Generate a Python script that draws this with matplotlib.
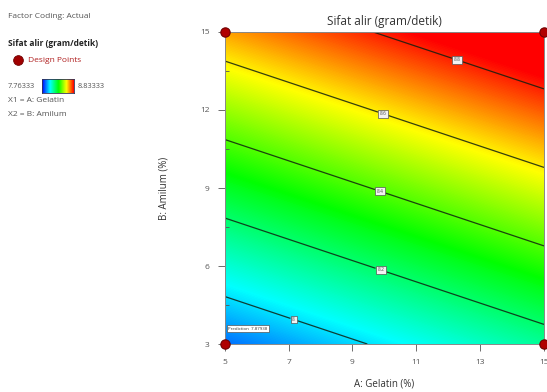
import numpy as np
import matplotlib.pyplot as plt
from matplotlib.colors import LinearSegmentedColormap
from matplotlib.lines import Line2D

plt.rcParams["font.family"] = ["Open Sans", "DejaVu Sans"]

# --------------------------------------------------------------
# datos: niveles de los factores y respuesta predicha (modelo lineal)
# --------------------------------------------------------------
gelatin = [5, 15]            # A: Gelatin (%)
amilum = [3, 15]             # B: Amilum (%)
pred = [[7.879, 8.150],      # amilum = 3
        [8.674, 8.945]]      # amilum = 15
contour_levels = [8.0, 8.2, 8.4, 8.6, 8.8]
contour_labels = ["8", "8.2", "8.4", "8.6", "8.8"]
label_pos = [(7.2, 4.1), (9.9, 5.9), (9.9, 9.0), (10.0, 12.0), (12.3, 14.0)]
z_min, z_max = 7.76333, 8.83333
x_ticks = [5, 7, 9, 11, 13, 15]
y_ticks = [3, 6, 9, 12, 15]
design_a = [5, 15, 5, 15]
design_b = [3, 3, 15, 15]

gray = "#555555"
cmap = LinearSegmentedColormap.from_list(
    "de", [(0.0, "#0000ff"), (0.25, "#00ffff"), (0.52, "#00ff00"),
           (0.77, "#ffff00"), (1.0, "#ff0000")])

fig = plt.figure(figsize=(5.47, 3.92), dpi=100)
ax = fig.add_axes([0.411, 0.1224, 0.5835, 0.796])

A, B = np.meshgrid(gelatin, amilum)
Z = np.array(pred)

fill_levels = np.linspace(z_min, z_max, 256)
cf = ax.contourf(A, B, Z, levels=fill_levels, cmap=cmap, extend="both",
                 antialiased=False)
cs = ax.contour(A, B, Z, levels=contour_levels, colors="#102010",
                linewidths=0.9, alpha=0.85)
fmt = dict(zip(contour_levels, contour_labels))
lbls = ax.clabel(cs, fmt=fmt, manual=label_pos, fontsize=3.5, inline=True,
                 inline_spacing=2, colors="#333333")
for t in lbls:
    t.set_rotation(0)
    t.set_bbox(dict(boxstyle="square,pad=0.3", fc="#f2f2f2", ec="#555555", lw=0.5))

ax.scatter(design_a, design_b, s=45, color="#b00000", edgecolor="#700000",
           lw=0.8, zorder=5, clip_on=False)

ax.text(5.1, 3.55, "Prediction  7.87938", fontsize=3.2, color="#333333",
        bbox=dict(boxstyle="square,pad=0.3", fc="white", ec="#555555", lw=0.5))

ax.set_xlim(5, 15)
ax.set_ylim(3, 15)
ax.set_xticks(x_ticks)
ax.set_yticks(y_ticks)
ax.set_yticks([4.5, 7.5, 10.5, 13.5], minor=True)
ax.tick_params(axis="both", direction="out", length=5, width=0.6,
               colors=gray, labelsize=6, pad=6)
ax.tick_params(axis="y", which="minor", direction="in", length=3, width=0.6,
               colors=gray)
for s in ax.spines.values():
    s.set_color("#888888")
    s.set_linewidth(0.7)

ax.set_title("Sifat alir (gram/detik)", fontsize=8.5, color="#333333", pad=5)
ax.set_xlabel("A: Gelatin (%)", fontsize=7, color="#333333", labelpad=9)
ax.set_ylabel("B: Amilum (%)", fontsize=7, color="#333333", labelpad=22)

# --------------------------------------------------------------
# leyenda de la izquierda
# --------------------------------------------------------------
fig.text(8 / 547, 1 - 17 / 392, "Factor Coding: Actual", fontsize=6,
         color=gray, va="center")
fig.text(8 / 547, 1 - 44 / 392, "Sifat alir (gram/detik)", fontsize=6,
         color="#222222", weight="bold", va="center")
fig.text(28 / 547, 1 - 60 / 392, "Design Points", fontsize=6,
         color="#b02020", va="center")
fig.add_artist(Line2D([18 / 547], [1 - 60 / 392], transform=fig.transFigure,
                      marker="o", markersize=7, color="#a00000",
                      markeredgecolor="#700000", markeredgewidth=0.6))
fig.text(8 / 547, 1 - 86 / 392, f"{z_min:.5f}", fontsize=5.3, color=gray,
         va="center")
fig.text(78 / 547, 1 - 86 / 392, f"{z_max:.5f}", fontsize=5.3, color=gray,
         va="center")
cax = fig.add_axes([42 / 547, 1 - 93 / 392, 32 / 547, 14 / 392])
cax.imshow(np.linspace(0, 1, 100)[None, :], aspect="auto", cmap=cmap)
cax.set_xticks([])
cax.set_yticks([])
for s in cax.spines.values():
    s.set_color("#333355")
    s.set_linewidth(0.6)
fig.text(8 / 547, 1 - 100 / 392, "X1 = A: Gelatin", fontsize=6,
         color=gray, va="center")
fig.text(8 / 547, 1 - 115 / 392, "X2 = B: Amilum", fontsize=6,
         color=gray, va="center")

fig.savefig("out.png", dpi=100)
